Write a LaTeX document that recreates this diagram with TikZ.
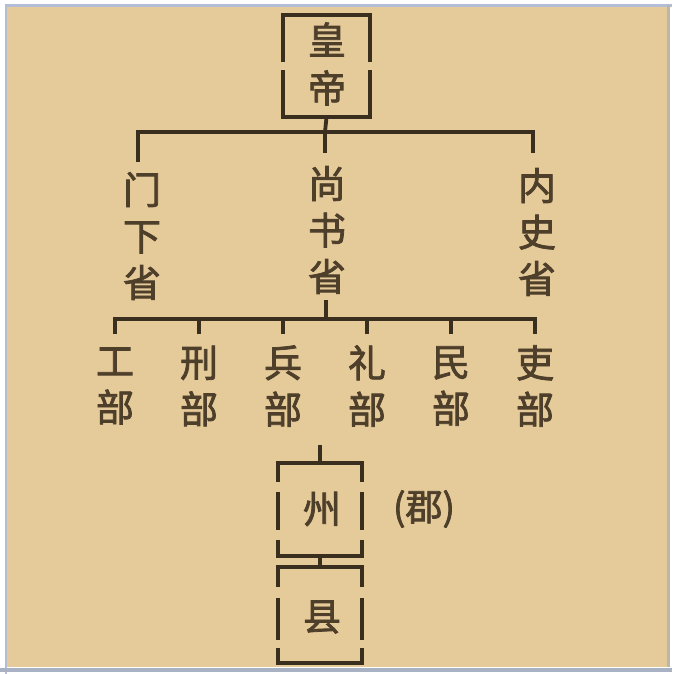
\documentclass[tikz,border=0pt]{standalone}
\usepackage{fontspec}
\newfontfamily\cjk{Noto Sans CJK SC}[FakeBold=2]
\definecolor{bgtan}{HTML}{E5CA9A}
\definecolor{inkline}{HTML}{3A2E1E}
\definecolor{inktext}{HTML}{4E3F2B}
\definecolor{frameblue}{HTML}{B3BED6}
\definecolor{framegrey}{HTML}{BDB6A8}
\begin{document}
\begin{tikzpicture}[x=1pt,y=-1pt,
  conn/.style={draw=inkline,line width=3.8pt,line cap=butt},
  chars/.style={font=\cjk\fontsize{38}{46.5}\selectfont,text=inktext,align=center,inner sep=0pt},
  boxshape/.style={draw=none,inner sep=0pt,rectangle},
  side/.style={draw=inkline,line width=3.8pt}
]
\useasboundingbox (0,0) rectangle (672,674);
\fill[white] (0,0) rectangle (672,674);
\fill[bgtan] (6,5) rectangle (667,667);
\draw[frameblue,line width=2.5pt] (6,675) -- (6,5.5) -- (672,5.5);
\draw[framegrey,line width=3pt] (668.5,5) -- (668.5,667);
\draw[frameblue!80!gray,line width=4pt] (0,669.5) -- (672,669.5);

% top box
\node[boxshape,minimum width=87pt,minimum height=102pt] (hdbox) at (326.5,66) {};
\node[chars,font=\cjk\fontsize{38}{48}\selectfont] (hd) at (327,64) {皇\\帝};
\draw[side] ([xshift=-1.9pt]hdbox.north west) -- ([xshift=1.9pt]hdbox.north east);
\draw[side] ([xshift=-1.9pt]hdbox.south west) -- ([xshift=1.9pt]hdbox.south east);
\draw[side,dash pattern=on 47pt off 8pt on 60pt] (hdbox.north west) -- (hdbox.south west);
\draw[side,dash pattern=on 47pt off 8pt on 60pt] (hdbox.north east) -- (hdbox.south east);

% three departments
\node[chars] (mx) at (142,236) {门\\下\\省};
\node[chars] (ss) at (327,230) {尚\\书\\省};
\node[chars] (ns) at (537,232) {内\\史\\省};

\coordinate (t1) at (325,132);
\coordinate (mxtop) at (138,162);
\coordinate (sstop) at (325,153);
\coordinate (nstop) at (533,153);
\draw[conn] (hdbox.south) -- (t1);
\draw[conn] (mxtop) |- (t1) -| (nstop);
\draw[conn] (t1) -- (sstop);

% six ministries
\node[chars] (gb) at (115,386) {工\\部};
\node[chars] (xb) at (199,386) {刑\\部};
\node[chars] (bb) at (283,386) {兵\\部};
\node[chars] (lb) at (367,386) {礼\\部};
\node[chars] (mb) at (451,386) {民\\部};
\node[chars] (lib) at (535,386) {吏\\部};

\coordinate (ssbot) at (326,300);
\coordinate (t2) at (326,319);
\coordinate (d1) at (115,334);
\coordinate (d2) at (199,334);
\coordinate (d3) at (283,334);
\coordinate (d4) at (367,334);
\coordinate (d5) at (451,334);
\coordinate (d6) at (535,334);
\draw[conn] (ssbot) -- (t2);
\draw[conn] (d1) |- (t2) -| (d6);
\foreach \d in {d2,d3,d4,d5} \draw[conn] (\d) -- (\d |- t2);

% zhou and xian
\node[boxshape,minimum width=84pt,minimum height=93pt] (zbox) at (320,509.5) {};
\node[boxshape,minimum width=84pt,minimum height=96pt] (xbox) at (320,615) {};
\node[chars] (zhou) at (322,509) {州};
\node[chars] (xian) at (322,617) {县};
\node[chars,font=\cjk\fontsize{37}{42}\selectfont] (jun) at (424,509) {(郡)};

\coordinate (zt) at (320,445);
\draw[conn] (zt) -- (zbox.north);
\draw[conn] (zbox.south) -- (xbox.north);

\draw[side] ([xshift=-1.9pt]zbox.north west) -- ([xshift=1.9pt]zbox.north east);
\draw[side] ([xshift=-1.9pt]zbox.south west) -- ([xshift=1.9pt]zbox.south east);
\draw[side,dash pattern=on 19pt off 10pt on 38pt off 10pt on 30pt] (zbox.north west) -- (zbox.south west);
\draw[side,dash pattern=on 19pt off 10pt on 38pt off 10pt on 30pt] (zbox.north east) -- (zbox.south east);

\draw[side] ([xshift=-1.9pt]xbox.north west) -- ([xshift=1.9pt]xbox.north east);
\draw[side] ([xshift=-1.9pt]xbox.south west) -- ([xshift=1.9pt]xbox.south east);
\draw[side,dash pattern=on 20pt off 11pt on 42pt off 8pt on 30pt] (xbox.north west) -- (xbox.south west);
\draw[side,dash pattern=on 20pt off 11pt on 42pt off 8pt on 30pt] (xbox.north east) -- (xbox.south east);
\end{tikzpicture}
\end{document}
